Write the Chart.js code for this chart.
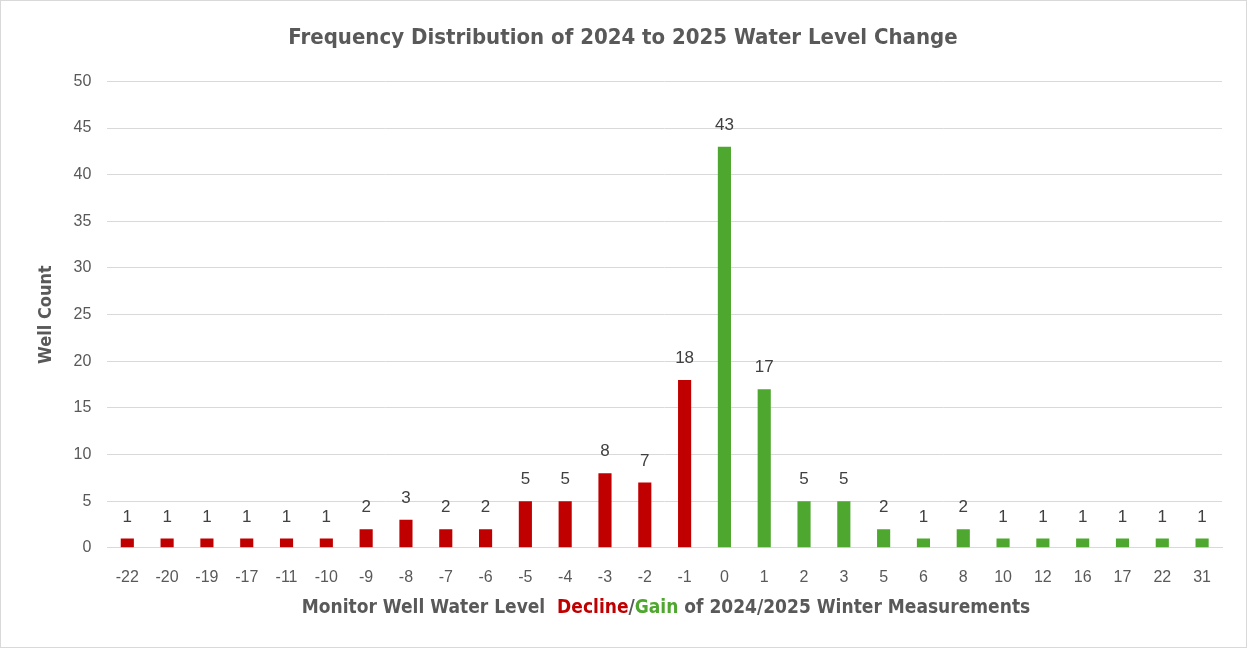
<!DOCTYPE html>
<html>
<head>
<meta charset="utf-8">
<script src="https://cdn.jsdelivr.net/npm/chart.js@4.4.1/dist/chart.umd.min.js"></script>
<style>
  html, body { margin: 0; padding: 0; background: #fff; }
  #wrap { width: 1245px; height: 646px; border: 1px solid #d9d9d9; position: relative; }
</style>
</head>
<body>
<div id="wrap"><canvas id="waterChart" width="1245" height="646"></canvas></div>
<script>
const changeLabels = ['-22', '-20', '-19', '-17', '-11', '-10', '-9', '-8', '-7', '-6', '-5', '-4', '-3', '-2', '-1',
    '0', '1', '2', '3', '5', '6', '8', '10', '12', '16', '17', '22', '31'];
const wellCounts = [1, 1, 1, 1, 1, 1, 2, 3, 2, 2, 5, 5, 8, 7, 18, 43, 17, 5, 5, 2, 1, 2, 1, 1, 1, 1, 1, 1];
const yTicks = [0, 5, 10, 15, 20, 25, 30, 35, 40, 45, 50];

const RED = '#C00000';
const GREEN = '#4EA72E';
const GREY = '#595959';
const narrow = '"Liberation Sans Narrow", "DejaVu Sans Condensed", "Roboto Condensed", sans-serif';
const plain = '"Liberation Sans", Arial, sans-serif';

const barColors = changeLabels.map(l => Number(l) < 0 ? RED : GREEN);

// value labels on top of bars
const valueLabels = {
    id: 'valueLabels',
    afterDatasetsDraw(chart) {
        const ctx = chart.ctx;
        const meta = chart.getDatasetMeta(0);
        ctx.save();
        ctx.font = '17px ' + plain;
        ctx.fillStyle = '#404040';
        ctx.textAlign = 'center';
        ctx.textBaseline = 'bottom';
        meta.data.forEach((bar, i) => {
            ctx.fillText(String(wellCounts[i]), bar.x, bar.y - 13);
        });
        ctx.restore();
    }
};

// x axis title with coloured words
const xTitle = {
    id: 'xTitle',
    afterDraw(chart) {
        const ctx = chart.ctx;
        const parts = [
            ['Monitor Well Water Level  ', GREY],
            ['Decline', RED],
            ['/', GREY],
            ['Gain', GREEN],
            [' of 2024/2025 Winter Measurements', GREY]
        ];
        ctx.save();
        ctx.font = 'bold 19px ' + narrow;
        ctx.textBaseline = 'middle';
        ctx.textAlign = 'left';
        const total = parts.reduce((s, p) => s + ctx.measureText(p[0]).width, 0);
        let x = 665 - total / 2;
        parts.forEach(p => {
            ctx.fillStyle = p[1];
            ctx.fillText(p[0], x, 607);
            x += ctx.measureText(p[0]).width;
        });
        ctx.restore();
    }
};

const canvas = document.getElementById('waterChart');
const ctx = canvas.getContext('2d');

new Chart(ctx, {
    type: 'bar',
    data: {
        labels: changeLabels,
        datasets: [{
            label: 'Well Count',
            data: wellCounts,
            backgroundColor: barColors,
            barPercentage: 0.66,
            categoryPercentage: 0.5,
        }],
    },
    options: {
        responsive: false,
        animation: false,
        layout: { padding: { left: 23, right: 24, top: 10, bottom: 40 } },
        plugins: {
            legend: { display: false },
            tooltip: { enabled: false },
            title: {
                display: true,
                text: 'Frequency Distribution of 2024 to 2025 Water Level Change',
                color: GREY,
                font: { family: narrow, size: 22, weight: 'bold' },
                padding: { top: 14, bottom: 30 }
            }
        },
        scales: {
            x: {
                grid: { display: false, drawTicks: false },
                border: { color: '#d9d9d9' },
                ticks: { color: GREY, font: { family: plain, size: 16 }, padding: 20, maxRotation: 0, autoSkip: false }
            },
            y: {
                min: 0,
                max: 50,
                afterBuildTicks: axis => { axis.ticks = yTicks.map(v => ({ value: v })); },
                grid: { color: '#d9d9d9', drawTicks: false },
                border: { display: false },
                ticks: { color: GREY, font: { family: plain, size: 16 }, padding: 16 },
                title: {
                    display: true,
                    text: 'Well Count',
                    color: GREY,
                    font: { family: narrow, size: 18, weight: 'bold' },
                    padding: { top: 12, bottom: 0 }
                }
            }
        }
    },
    plugins: [valueLabels, xTitle]
});
</script>
</body>
</html>
